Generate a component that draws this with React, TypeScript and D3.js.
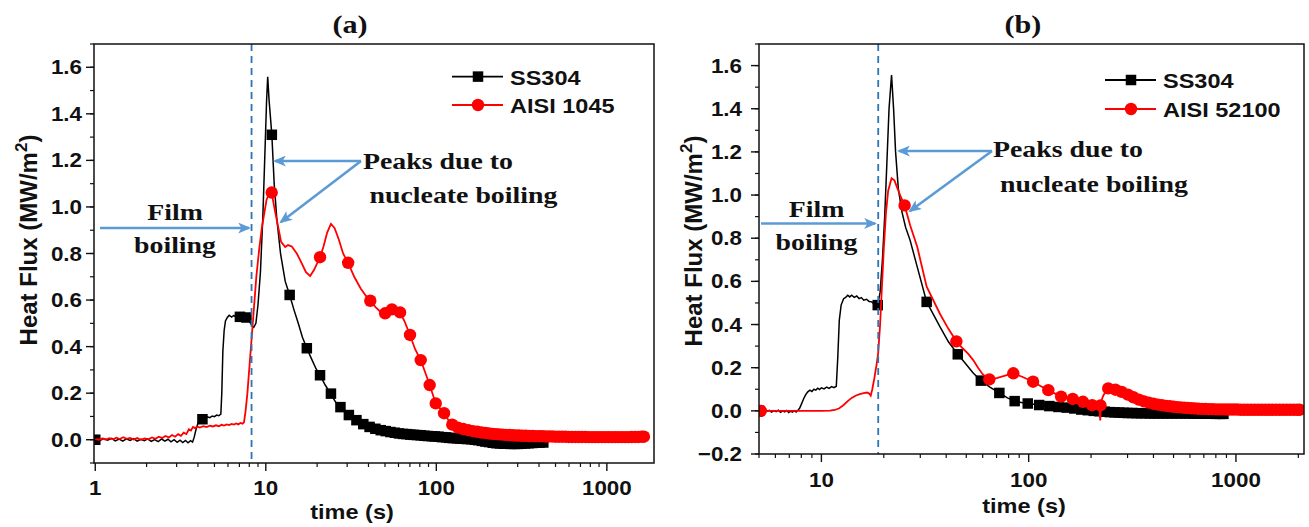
import React from 'react';
import * as d3 from 'd3';

type P = [number, number];

// ---------- Panel (a) data ----------
const SERIES_A = ['SS304', 'AISI 1045'];
const X_TICKS_A = [1, 10, 100, 1000];
const Y_TICKS_A = [0.0, 0.2, 0.4, 0.6, 0.8, 1.0, 1.2, 1.4, 1.6];
const DASH_T_A = 8.25;

const ss304A: P[] = [
  [1.0,0.002],[1.06,-0.004],[1.12,0.005],[1.18,-0.002],[1.25,0.006],[1.31,-0.005],[1.38,0.003],[1.45,-0.006],[1.52,0.004],[1.6,-0.003],
  [1.68,0.005],[1.76,-0.006],[1.85,0.002],[1.94,-0.004],[2.03,0.004],[2.13,-0.007],[2.23,0.001],[2.34,-0.008],[2.45,0.003],[2.56,-0.006],
  [2.67,0.002],[2.78,-0.009],[2.9,0.0],[3.02,-0.011],[3.14,-0.002],[3.26,-0.012],[3.38,-0.003],[3.5,-0.013],[3.62,-0.004],[3.72,-0.01],
  [3.8,0.01],[3.9,0.045],[4.0,0.07],[4.1,0.08],[4.25,0.088],[4.4,0.092],[4.55,0.098],[4.7,0.095],[4.85,0.102],[5.0,0.099],[5.15,0.106],
  [5.3,0.103],[5.45,0.11],[5.52,0.2],[5.6,0.38],[5.7,0.47],[5.8,0.51],[5.95,0.525],[6.1,0.535],[6.3,0.527],[6.5,0.534],[6.7,0.526],
  [6.9,0.532],[7.1,0.528],[7.4,0.53],[7.7,0.525],[8.0,0.51],[8.3,0.49],[8.5,0.483],[8.75,0.5],[9.0,0.58],[9.3,0.72],[9.6,0.95],[9.9,1.25],
  [10.1,1.45],[10.26,1.559],[10.45,1.46],[10.85,1.31],[11.2,1.1],[11.6,0.95],[12.2,0.8],[13.0,0.68],[13.8,0.622],[14.6,0.56],[15.5,0.5],
  [16.4,0.44],[17.4,0.393],[18.6,0.345],[19.7,0.305],[20.8,0.277],[22.3,0.235],[24.0,0.198],[25.5,0.165],[27.0,0.14],[29.0,0.12],[31.0,0.104],
  [33.5,0.088],[35.7,0.075],[38.5,0.063],[41.2,0.053],[45,0.045],[48.6,0.039],[55,0.032],[64.5,0.025],[75,0.021],[85,0.017],[101,0.013],
  [120,0.009],[140,0.005],[161,0.002],[185,-0.005],[210,-0.012],[240,-0.016],[280,-0.018],[320,-0.017],[370,-0.014],[424,-0.012]
];
const ss304AMarkers: P[] = [
  [1.0,0.0],[4.25,0.088],[7.05,0.528],[7.7,0.525],[10.85,1.31],[13.8,0.622],[17.4,0.393],[20.8,0.277],[24.1,0.198],[27.4,0.14],[30.7,0.106],
  [34,0.084],[37.3,0.067],[40.6,0.055],[43.9,0.047],[47.2,0.041],[50.5,0.037],[53.8,0.033],[57.1,0.03],[60.4,0.027],[63.7,0.025],[67,0.024],
  [70.3,0.022],[73.6,0.021],[77,0.02],[81,0.019],[85,0.017],[89,0.016],[94,0.015],[98,0.014],[103,0.013],[108,0.011],[114,0.01],[119,0.008],
  [125,0.007],[132,0.006],[138,0.005],[145,0.004],[152,0.003],[160,0.002],[168,0.0],[176,-0.002],[185,-0.005],[194,-0.008],[204,-0.01],
  [214,-0.013],[225,-0.015],[236,-0.016],[248,-0.017],[260,-0.017],[273,-0.018],[287,-0.018],[301,-0.018],[316,-0.017],[332,-0.016],
  [349,-0.015],[366,-0.014],[384,-0.013],[404,-0.012],[424,-0.012]
];
const aisi1045: P[] = [
  [1.0,0.003],[1.05,0.0],[1.1,0.005],[1.15,0.001],[1.21,0.007],[1.27,0.002],[1.33,0.009],[1.39,0.003],[1.46,0.011],[1.53,0.004],[1.6,0.008],
  [1.68,0.001],[1.76,0.007],[1.85,0.0],[1.95,0.006],[2.05,0.002],[2.15,0.01],[2.25,0.004],[2.36,0.013],[2.47,0.007],[2.58,0.016],[2.7,0.01],
  [2.82,0.02],[2.94,0.013],[3.06,0.024],[3.18,0.017],[3.3,0.03],[3.42,0.024],[3.54,0.045],[3.64,0.04],[3.74,0.055],[3.85,0.05],[3.97,0.057],
  [4.1,0.052],[4.3,0.058],[4.5,0.054],[4.7,0.06],[4.9,0.057],[5.1,0.062],[5.3,0.058],[5.5,0.064],[5.7,0.061],[5.9,0.066],[6.1,0.063],
  [6.3,0.068],[6.5,0.065],[6.7,0.07],[6.9,0.066],[7.1,0.072],[7.3,0.069],[7.45,0.075],[7.6,0.12],[7.8,0.2],[8.05,0.33],[8.3,0.457],
  [8.55,0.58],[8.8,0.7],[9.15,0.82],[9.5,0.915],[10.1,1.03],[10.5,1.06],[10.83,1.062],[11.2,1.0],[11.6,0.944],[12.3,0.85],[13.0,0.828],
  [13.5,0.836],[14.2,0.83],[15.2,0.8],[16.2,0.76],[17.2,0.72],[18.2,0.703],[19.2,0.73],[20.8,0.784],[21.8,0.83],[22.9,0.89],[24.1,0.927],
  [25.3,0.91],[26.8,0.86],[28.4,0.8],[30.4,0.76],[33,0.7],[36,0.65],[38.5,0.62],[41,0.597],[44,0.57],[47,0.55],[50.1,0.543],[52.5,0.556],
  [54.9,0.56],[58,0.558],[61.3,0.547],[65,0.51],[70.1,0.45],[75,0.39],[81,0.342],[86,0.29],[91.4,0.235],[99.2,0.156],[105,0.135],
  [111,0.114],[117,0.088],[124,0.065],[134,0.052],[150,0.043],[170,0.035],[200,0.027],[250,0.021],[300,0.018],[400,0.015],[500,0.013],
  [700,0.012],[1000,0.011],[1300,0.011],[1650,0.013]
];
const aisi1045Markers: P[] = [
  [10.83,1.062],[20.8,0.784],[30.4,0.76],[41,0.597],[50.1,0.543],[54.9,0.56],[61.3,0.547],[70.1,0.45],[81,0.342],[91.4,0.235],[99.2,0.156],
  [111,0.114],[124,0.065],[134,0.052],[144,0.046],[154,0.041],[164,0.037],[174,0.034],[184,0.031],[194,0.029],[204,0.027],[214,0.025],
  [224,0.024],[234,0.023],[245,0.022],[256,0.021],[268,0.02],[280,0.019],[293,0.018],[306,0.018],[320,0.017],[335,0.017],[350,0.016],
  [366,0.016],[383,0.015],[400,0.015],[418,0.015],[437,0.014],[457,0.014],[478,0.014],[500,0.013],[523,0.013],[547,0.013],[572,0.013],
  [598,0.012],[625,0.012],[654,0.012],[684,0.012],[715,0.012],[748,0.012],[782,0.011],[818,0.011],[855,0.011],[894,0.011],[935,0.011],
  [978,0.011],[1023,0.011],[1070,0.011],[1119,0.011],[1170,0.011],[1224,0.011],[1280,0.011],[1339,0.011],[1400,0.012],[1464,0.012],
  [1531,0.012],[1600,0.013],[1650,0.013]
];

// ---------- Panel (b) data ----------
const SERIES_B = ['SS304', 'AISI 52100'];
const X_TICKS_B = [10, 100, 1000];
const Y_TICKS_B = [-0.2, 0.0, 0.2, 0.4, 0.6, 0.8, 1.0, 1.2, 1.4, 1.6];
const DASH_T_B = 18.8;

const ss304B: P[] = [
  [5.0,0.0],[5.15,-0.005],[5.3,0.004],[5.45,-0.003],[5.6,0.002],[5.75,-0.006],[5.9,0.001],[6.05,-0.004],[6.2,0.003],[6.35,-0.007],
  [6.5,0.0],[6.65,-0.005],[6.8,0.002],[6.95,-0.008],[7.1,-0.001],[7.25,-0.006],[7.4,0.001],[7.55,-0.005],[7.7,0.003],[7.85,0.012],
  [8.0,0.03],[8.2,0.055],[8.4,0.075],[8.6,0.088],[8.8,0.096],[9.0,0.09],[9.2,0.1],[9.4,0.096],[9.6,0.105],[9.8,0.099],[10.0,0.107],
  [10.3,0.102],[10.6,0.11],[10.9,0.104],[11.2,0.112],[11.5,0.107],[11.8,0.114],[12.0,0.25],[12.2,0.42],[12.45,0.49],[12.8,0.52],
  [13.1,0.526],[13.4,0.536],[13.7,0.528],[14.0,0.536],[14.4,0.526],[14.8,0.532],[15.2,0.52],[15.6,0.525],[16.0,0.513],[16.5,0.517],
  [17.0,0.507],[17.5,0.505],[18.0,0.495],[18.7,0.49],[19.2,0.55],[19.7,0.7],[20.2,0.9],[20.7,1.15],[21.2,1.4],[21.8,1.556],[22.3,1.4],
  [22.8,1.2],[23.5,1.03],[24.5,0.92],[25.5,0.85],[26.8,0.79],[29.0,0.667],[32.2,0.505],[37.3,0.39],[41,0.32],[45.5,0.262],[50,0.215],
  [54,0.175],[58.8,0.14],[65,0.11],[72.2,0.083],[79,0.06],[85.6,0.045],[95,0.036],[110,0.028],[130,0.021],[155,0.014],[180,0.006],
  [210,0.0],[250,-0.007],[300,-0.01],[400,-0.012],[550,-0.012],[700,-0.013],[870,-0.014]
];
const ss304BMarkers: P[] = [
  [5.0,0.0],[18.7,0.49],[32.2,0.505],[45.5,0.262],[58.8,0.14],[72.2,0.083],[85.6,0.045],[99,0.034],[112.4,0.027],[125.8,0.022],
  [139.2,0.018],[152.6,0.015],[166,0.011],[179.4,0.006],[192.8,0.003],[206.2,0.0],[219.6,-0.002],[233,-0.004],[246.4,-0.006],
  [259.8,-0.007],[273.2,-0.008],[286.6,-0.009],[300,-0.01],[316,-0.01],[332,-0.011],[349,-0.011],[366,-0.011],[384,-0.012],[404,-0.012],
  [424,-0.012],[445,-0.012],[467,-0.012],[490,-0.012],[515,-0.012],[541,-0.012],[568,-0.012],[596,-0.012],[626,-0.013],[657,-0.013],
  [690,-0.013],[725,-0.013],[761,-0.013],[799,-0.014],[839,-0.014],[870,-0.014]
];
const aisi52100: P[] = [
  [5.0,0.0],[6,0.0],[7,0.0],[8,0.0],[9,0.0],[10,0.0],[11,0.001],[11.6,0.004],[12.2,0.012],[12.8,0.027],[13.4,0.045],[14.0,0.06],
  [14.6,0.07],[15.3,0.077],[16.0,0.082],[16.6,0.085],[17.0,0.08],[17.3,0.07],[17.6,0.1],[18.0,0.15],[18.5,0.22],[18.8,0.27],[19.2,0.4],
  [19.6,0.58],[20.0,0.75],[20.5,0.92],[21.0,1.02],[21.8,1.078],[22.5,1.068],[23.3,1.03],[24.2,0.99],[25.2,0.952],[26.8,0.86],[29.0,0.76],
  [32.2,0.575],[37.3,0.45],[41,0.38],[44.8,0.322],[48,0.29],[51,0.265],[54,0.235],[57,0.2],[60,0.17],[64,0.146],[70,0.152],[77,0.163],
  [84.3,0.174],[93,0.158],[105,0.135],[114,0.115],[124.4,0.096],[134,0.08],[143.4,0.066],[153,0.06],[163.1,0.055],[173,0.048],
  [182.8,0.042],[192,0.034],[202.5,0.026],[212,0.022],[218,0.02],[220,0.0],[221.5,-0.045],[223,0.01],[225,0.05],[229,0.07],[235,0.088],
  [242,0.104],[262,0.098],[281,0.088],[301,0.075],[320,0.063],[340,0.052],[360,0.044],[380,0.038],[400,0.033],[440,0.026],[480,0.021],
  [541,0.016],[633,0.011],[741,0.008],[866,0.007],[1013,0.006],[1300,0.005],[1700,0.005],[2030,0.005]
];
const aisi52100Markers: P[] = [
  [5.1,0.0],[25.2,0.952],[44.8,0.322],[64.6,0.146],[84.3,0.174],[105,0.135],[124.4,0.096],[143.4,0.066],[163.1,0.055],[182.8,0.042],
  [202.5,0.026],[222,0.025],[242,0.104],[262,0.098],[281,0.088],[301,0.075],[320,0.063],[340,0.052],[360,0.044],[380,0.038],[400,0.033],
  [420,0.029],[440,0.026],[460,0.023],[480,0.021],[500,0.019],[520,0.017],[541,0.016],[563,0.014],[585,0.013],[609,0.012],[633,0.011],
  [658,0.01],[685,0.009],[712,0.009],[741,0.008],[770,0.008],[801,0.007],[833,0.007],[866,0.007],[901,0.006],[937,0.006],[974,0.006],
  [1013,0.006],[1054,0.005],[1096,0.005],[1140,0.005],[1185,0.005],[1233,0.005],[1282,0.005],[1333,0.005],[1387,0.005],[1442,0.005],
  [1500,0.005],[1560,0.005],[1622,0.005],[1687,0.005],[1755,0.005],[1825,0.005],[1898,0.005],[1974,0.005],[2030,0.005]
];

// ---------- styles ----------
const SX = 1.12;
const SANS = '"Liberation Sans", Arial, sans-serif';
const SERIF = '"Liberation Serif", "Times New Roman", serif';
const ARROW = '#5B9BD5';
const DASHC = '#2E75B6';
const RED = '#FF0000';
const INK = '#111111';

function Txt(props: { x: number; y: number; size: number; family: string; anchor?: string; sx?: number; children: React.ReactNode }) {
  const { x, y, size, family, anchor = 'start', sx = SX, children } = props;
  return (
    <text transform={`translate(${x},${y}) scale(${sx},1)`} fontSize={size} fontFamily={family} fontWeight="bold"
      textAnchor={anchor as any} fill={INK}>{children}</text>
  );
}

interface PanelCfg {
  id: string;
  x: d3.ScaleLogarithmic<number, number>;
  y: d3.ScaleLinear<number, number>;
  xTicks: number[];
  yTicks: number[];
  black: P[]; blackM: P[]; red: P[]; redM: P[];
  names: string[];
  dashT: number;
  title: string; titleX: number;
  xLabelX: number; xLabelY: number; xTickY: number;
  yLabelX: number; yLabelY: number; yTickX: number;
  legX: number; legY: number[];
  film: { cx: number; y1: number; y2: number; ax0: number; ax1: number; ay: number };
  peaks: { tx: number; ty1: number; tx2: number; ty2: number; sx: number; sy: number; h: [number, number]; d: [number, number] };
}

function Panel({ c }: { c: PanelCfg }) {
  const [x0, x1] = c.x.range();
  const [y0, y1] = c.y.range();
  const line = d3.line<P>().x(d => c.x(d[0])).y(d => c.y(d[1]));
  const minorX = c.x.ticks().filter(t => !c.xTicks.some(m => Math.abs(m - t) < 1e-9));
  const yd = c.y.domain();
  const minorY = d3.range(Math.round(yd[0] * 10), Math.round(yd[1] * 10) + 1).map(v => v / 10);
  const fmt = d3.format('.1f');
  const sq = 10.5, r = 6.2;
  return (
    <g>
      <defs>
        <clipPath id={`clip-${c.id}`}><rect x={x0} y={y1} width={x1 - x0} height={y0 - y1} /></clipPath>
      </defs>
      {minorY.map((v, i) => (
        <line key={'my' + i} x1={x0 - 4} x2={x0} y1={c.y(v)} y2={c.y(v)} stroke={INK} strokeWidth={1.2} />
      ))}
      {c.yTicks.map((v, i) => (
        <g key={'y' + i}>
          <line x1={x0 - 8} x2={x0} y1={c.y(v)} y2={c.y(v)} stroke={INK} strokeWidth={1.4} />
          <Txt x={c.yTickX} y={c.y(v) + 7} size={20} family={SANS} anchor="end">{fmt(v)}</Txt>
        </g>
      ))}
      {minorX.map((v, i) => (
        <line key={'mx' + i} x1={c.x(v)} x2={c.x(v)} y1={y0} y2={y0 + 4} stroke={INK} strokeWidth={1.2} />
      ))}
      {c.xTicks.map((v, i) => (
        <g key={'x' + i}>
          <line x1={c.x(v)} x2={c.x(v)} y1={y0} y2={y0 + 8} stroke={INK} strokeWidth={1.4} />
          <Txt x={c.x(v)} y={c.xTickY} size={20} family={SANS} anchor="middle">{String(v)}</Txt>
        </g>
      ))}
      <g clipPath={`url(#clip-${c.id})`}>
        <path d={line(c.black) || ''} fill="none" stroke="#000" strokeWidth={1.5} />
        {c.blackM.map((d, i) => (
          <rect key={'bm' + i} x={c.x(d[0]) - sq / 2} y={c.y(d[1]) - sq / 2} width={sq} height={sq} fill="#000" />
        ))}
        <path d={line(c.red) || ''} fill="none" stroke={RED} strokeWidth={1.8} />
        {c.redM.map((d, i) => (
          <circle key={'rm' + i} cx={c.x(d[0])} cy={c.y(d[1])} r={r} fill={RED} />
        ))}
      </g>
      <line x1={c.x(c.dashT)} x2={c.x(c.dashT)} y1={y1} y2={y0} stroke={DASHC} strokeWidth={1.8} strokeDasharray="7,5" />
      <rect x={x0} y={y1} width={x1 - x0} height={y0 - y1} fill="none" stroke={INK} strokeWidth={1.5} />
      {c.names.map((n, i) => {
        const ly = c.legY[i];
        const mx = c.legX + 26;
        return (
          <g key={'lg' + i}>
            <line x1={c.legX} x2={c.legX + 51} y1={ly} y2={ly} stroke={i === 0 ? '#000' : RED} strokeWidth={1.8} />
            {i === 0
              ? <rect x={mx - sq / 2} y={ly - sq / 2} width={sq} height={sq} fill="#000" />
              : <circle cx={mx} cy={ly} r={r} fill={RED} />}
            <Txt x={c.legX + 58} y={ly + 8} size={21} family={SANS}>{n}</Txt>
          </g>
        );
      })}
      <Txt x={c.film.cx} y={c.film.y1} size={24} family={SERIF} anchor="middle" sx={1.16}>Film</Txt>
      <Txt x={c.film.cx} y={c.film.y2} size={24} family={SERIF} anchor="middle" sx={1.16}>boiling</Txt>
      <line x1={c.film.ax0} x2={c.film.ax1 - 2} y1={c.film.ay} y2={c.film.ay} stroke={ARROW} strokeWidth={2.6} markerEnd="url(#arrowhead)" />
      <Txt x={c.peaks.tx} y={c.peaks.ty1} size={24} family={SERIF} sx={1.16}>Peaks due to</Txt>
      <Txt x={c.peaks.tx2} y={c.peaks.ty2} size={24} family={SERIF} sx={1.16}>nucleate boiling</Txt>
      <line x1={c.peaks.sx} y1={c.peaks.sy} x2={c.peaks.h[0]} y2={c.peaks.h[1]} stroke={ARROW} strokeWidth={2.6} markerEnd="url(#arrowhead)" />
      <line x1={c.peaks.sx} y1={c.peaks.sy} x2={c.peaks.d[0]} y2={c.peaks.d[1]} stroke={ARROW} strokeWidth={2.6} markerEnd="url(#arrowhead)" />
      <Txt x={c.titleX} y={33} size={26} family={SERIF} anchor="middle" sx={1.16}>{c.title}</Txt>
      <Txt x={c.xLabelX} y={c.xLabelY} size={21} family={SANS} anchor="middle">time (s)</Txt>
      <text transform={`translate(${c.yLabelX},${c.yLabelY}) rotate(-90)`} fontSize={24} fontFamily={SANS} fontWeight="bold"
        textAnchor="middle" fill={INK}>
        Heat Flux (MW/m<tspan dy={-10} fontSize={17}>2</tspan><tspan dy={10}>)</tspan>
      </text>
    </g>
  );
}

export default function App() {
  const xa = d3.scaleLog().domain([0.983, 1890]).range([94, 654]);
  const ya = d3.scaleLinear().domain([-0.1, 1.7]).range([463, 44]);
  const xb = d3.scaleLog().domain([5, 2130]).range([759, 1304]);
  const yb = d3.scaleLinear().domain([-0.2, 1.7]).range([454, 44]);

  const A: PanelCfg = {
    id: 'a', x: xa, y: ya, xTicks: X_TICKS_A, yTicks: Y_TICKS_A,
    black: ss304A, blackM: ss304AMarkers, red: aisi1045, redM: aisi1045Markers,
    names: SERIES_A, dashT: DASH_T_A,
    title: '(a)', titleX: 350,
    xLabelX: 352, xLabelY: 519, xTickY: 495,
    yLabelX: 37, yLabelY: 240, yTickX: 82,
    legX: 452, legY: [76.6, 105],
    film: { cx: 175, y1: 220, y2: 253, ax0: 100, ax1: 251, ay: 228 },
    peaks: { tx: 363, ty1: 169, tx2: 369.5, ty2: 203, sx: 361, sy: 161, h: [275, 161], d: [281, 222] },
  };
  const B: PanelCfg = {
    id: 'b', x: xb, y: yb, xTicks: X_TICKS_B, yTicks: Y_TICKS_B,
    black: ss304B, blackM: ss304BMarkers, red: aisi52100, redM: aisi52100Markers,
    names: SERIES_B, dashT: DASH_T_B,
    title: '(b)', titleX: 1023,
    xLabelX: 1024, xLabelY: 513, xTickY: 487,
    yLabelX: 702, yLabelY: 241, yTickX: 742,
    legX: 1105, legY: [80, 109],
    film: { cx: 816.5, y1: 217, y2: 250, ax0: 761, ax1: 877, ay: 223.5 },
    peaks: { tx: 993, ty1: 157, tx2: 1000, ty2: 191.5, sx: 992, sy: 151, h: [899, 151], d: [910, 211] },
  };

  return (
    <svg width={1309} height={527} style={{ position: 'absolute', left: 0, top: 0, background: '#fff' }}>
      <defs>
        <marker id="arrowhead" viewBox="0 0 12 10" refX={10} refY={5} markerWidth={13} markerHeight={11}
          markerUnits="userSpaceOnUse" orient="auto">
          <path d="M0,0 L12,5 L0,10 L3,5 z" fill={ARROW} />
        </marker>
      </defs>
      <rect x={0} y={0} width={1309} height={527} fill="#fff" />
      <Panel c={A} />
      <Panel c={B} />
    </svg>
  );
}
